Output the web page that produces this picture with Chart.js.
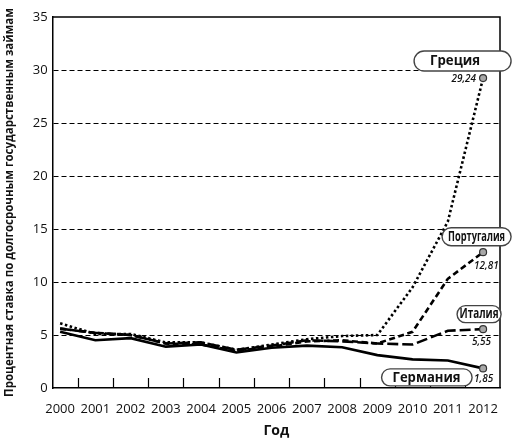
<!DOCTYPE html>
<html>
<head>
<meta charset="utf-8">
<script src="https://cdn.jsdelivr.net/npm/chart.js@4"></script>
<style>
  html, body { margin: 0; padding: 0; background: #fff; }
  #chart { display: block; }
</style>
</head>
<body>
<canvas id="chart" width="526" height="445"></canvas>
<script>
'use strict';

// Data
const years    = [2000, 2001, 2002, 2003, 2004, 2005, 2006, 2007, 2008, 2009, 2010, 2011, 2012];
const greece   = [6.1, 5.1, 5.1, 4.3, 4.3, 3.6, 4.1, 4.6, 4.9, 5.0, 9.5, 15.7, 29.24];
const portugal = [5.6, 5.2, 5.0, 4.2, 4.1, 3.5, 3.9, 4.4, 4.5, 4.2, 5.3, 10.3, 12.81];
const italy    = [5.6, 5.2, 5.0, 4.2, 4.3, 3.6, 4.0, 4.5, 4.4, 4.2, 4.1, 5.4, 5.55];
const germany  = [5.3, 4.5, 4.7, 3.9, 4.1, 3.35, 3.8, 4.0, 3.85, 3.1, 2.7, 2.6, 1.85];
const seriesNames = ['Греция', 'Португалия', 'Италия', 'Германия'];
const yTicks = [0, 5, 10, 15, 20, 25, 30, 35];

const font = { family: 'Open Sans', size: 13 };
const ink  = '#111';

function toPoints(values) {
  return values.map((v, i) => ({ x: years[i], y: v }));
}

// only the last point gets a marker
const lastOnly = ctx => (ctx.dataIndex === years.length - 1 ? 3.5 : 0);

function series(label, values, dash) {
  return {
    label,
    data: toPoints(values),
    borderColor: '#000',
    borderWidth: 2.6,
    borderDash: dash,
    borderCapStyle: 'butt',
    tension: 0,
    pointRadius: lastOnly,
    pointBackgroundColor: '#a8a8a8',
    pointBorderColor: '#333',
    pointBorderWidth: 1.2,
  };
}

// pill labels, offsets relative to the 2012 point of each series
// box: [dx, dy, w, h], text: [dx, dy, maxWidth], val: [dx, dy]
const callouts = [
  { box: [-69, -27, 97, 20], text: [-28, -17, 50], size: 15, val: [-7, 1], align: 'right' },
  { box: [-41, -24.5, 69, 18], text: [-6.5, -15.5, 57], size: 14, val: [-9, 13.5], align: 'left' },
  { box: [-26, -23.5, 44, 17], text: [-4, -15, 39], size: 15, val: [8, 12.5], align: 'right' },
  { box: [-101.5, 0.5, 90.5, 17], text: [-56.5, 9, 68], size: 14.5, val: [-9, 11], align: 'left' },
];

function pill(ctx, x, y, w, h) {
  const r = h / 2;
  ctx.beginPath();
  ctx.moveTo(x + r, y);
  ctx.lineTo(x + w - r, y);
  ctx.arc(x + w - r, y + r, r, -Math.PI / 2, Math.PI / 2);
  ctx.lineTo(x + r, y + h);
  ctx.arc(x + r, y + r, r, Math.PI / 2, Math.PI * 1.5);
  ctx.closePath();
  ctx.fillStyle = '#fff';
  ctx.fill();
  ctx.lineWidth = 1.4;
  ctx.strokeStyle = '#444';
  ctx.stroke();
}

// bold label squeezed to a width (the original uses a condensed face)
function squeezed(ctx, text, cx, cy, size, maxW) {
  ctx.font = 'bold ' + size + 'px "Open Sans"';
  const w = ctx.measureText(text).width;
  const k = w > maxW ? maxW / w : 1;
  ctx.save();
  ctx.translate(cx, cy);
  ctx.scale(k, 1);
  ctx.textAlign = 'center';
  ctx.textBaseline = 'middle';
  ctx.fillText(text, 0, 0);
  ctx.restore();
}

const frame = {
  id: 'frame',
  afterDatasetsDraw(chart) {
    const { ctx, chartArea: a, scales: { x, y } } = chart;
    ctx.save();

    // top + right border
    ctx.strokeStyle = '#000';
    ctx.lineWidth = 1.5;
    ctx.beginPath();
    ctx.moveTo(a.left, a.top);
    ctx.lineTo(a.right, a.top);
    ctx.lineTo(a.right, a.bottom);
    ctx.stroke();

    // inner tick marks between years
    ctx.lineWidth = 1.2;
    ctx.beginPath();
    for (let i = 0; i < years.length - 1; i++) {
      const px = Math.round(x.getPixelForValue(years[i] + 0.5)) + 0.5;
      ctx.moveTo(px, a.bottom);
      ctx.lineTo(px, a.bottom - 10);
    }
    ctx.stroke();

    // callouts
    chart.data.datasets.forEach((ds, i) => {
      const c = callouts[i];
      const last = ds.data[ds.data.length - 1];
      const px = x.getPixelForValue(last.x);
      const py = y.getPixelForValue(last.y);
      pill(ctx, px + c.box[0], py + c.box[1], c.box[2], c.box[3]);
      ctx.fillStyle = ink;
      squeezed(ctx, ds.label, px + c.text[0], py + c.text[1], c.size, c.text[2]);
      ctx.font = 'italic 600 10px "Open Sans"';
      ctx.textAlign = c.align;
      ctx.textBaseline = 'middle';
      ctx.fillText(last.y.toFixed(2).replace('.', ','), px + c.val[0], py + c.val[1]);
    });
    ctx.restore();
  }
};

new Chart(document.getElementById('chart'), {
  type: 'line',
  data: {
    datasets: [
      series(seriesNames[0], greece, [2.5, 2.5]),
      series(seriesNames[1], portugal, [6, 3.5]),
      series(seriesNames[2], italy, [11, 4]),
      series(seriesNames[3], germany, []),
    ]
  },
  options: {
    responsive: false,
    animation: false,
    layout: { padding: { top: 17, right: 26, left: 0, bottom: 0 } },
    plugins: { legend: { display: false }, tooltip: { enabled: false } },
    scales: {
      x: {
        type: 'linear',
        min: 1999.79,
        max: 2012.48,
        afterFit: s => { s.height = 57; },
        grid: { display: false },
        border: { display: true, color: '#000', width: 1.5 },
        ticks: {
          stepSize: 1, includeBounds: false, autoSkip: false, maxRotation: 0,
          callback: v => (Number.isInteger(v) ? String(v) : ''),
          font, color: ink, padding: 5
        },
        title: {
          display: true, text: 'Год', color: ink,
          font: { family: 'Open Sans', size: 14, weight: 'bold' },
          padding: { top: 4, bottom: 6 }
        }
      },
      y: {
        min: 0,
        max: 35,
        afterFit: s => { s.width = 52.7; },
        afterBuildTicks: s => { s.ticks = yTicks.map(v => ({ value: v })); },
        grid: {
          drawTicks: false,
          lineWidth: 1,
          color: c => (c.tick && c.tick.value > 0 && c.tick.value < 35 ? '#000' : 'rgba(0,0,0,0)')
        },
        border: { display: true, color: '#000', width: 1.5, dash: [5, 3] },
        ticks: { font, color: ink, padding: 5 },
        title: {
          display: true, color: ink,
          text: 'Процентная ставка по долгосрочным государственным займам',
          font: { family: 'Open Sans', size: 11.5, weight: 'bold' },
          padding: { top: 3, bottom: 0 }
        }
      }
    }
  },
  plugins: [frame]
});
</script>
</body>
</html>
